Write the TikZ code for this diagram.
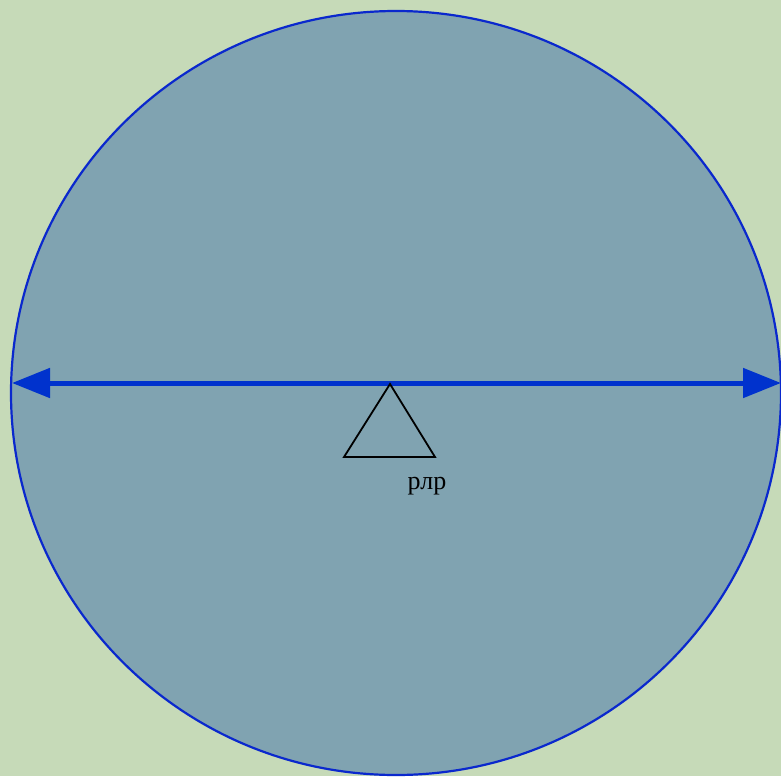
\documentclass[tikz,border=0pt]{standalone}
\usepackage{fontspec}
\setmainfont{Liberation Serif}
\usetikzlibrary{arrows.meta}
\definecolor{bgcol}{RGB}{198,218,184}
\definecolor{circfill}{RGB}{128,163,177}
\definecolor{circline}{RGB}{10,40,205}
\definecolor{arrowcol}{RGB}{0,50,205}
\tikzset{
  disc/.style={draw=circline, line width=2.2pt, fill=circfill},
  diam/.style={draw=arrowcol, line width=5pt, {Triangle[length=38pt,width=29pt]}-{Triangle[length=38pt,width=29pt]}},
  fulcrum/.style={draw=black, line width=1.8pt, line join=miter},
  lbl/.style={font=\fontsize{26}{30}\selectfont, inner sep=0pt}
}
\begin{document}
\begin{tikzpicture}[x=1pt,y=-1pt]
\useasboundingbox (0,0) rectangle (781,776);
\fill[bgcol] (0,0) rectangle (781,776);
\draw[disc] (396,393) ellipse [x radius=385, y radius=382];
\coordinate (L) at (12,383);
\coordinate (R) at (781,383);
\draw[diam] (L) -- (R);
\coordinate (A) at (390,384);
\coordinate (B) at (344,457);
\coordinate (C) at (435,457);
\draw[fulcrum] (A) -- (B) -- (C) -- cycle;
\node[lbl] (t) at (427,486) {рлр};
\end{tikzpicture}
\end{document}
